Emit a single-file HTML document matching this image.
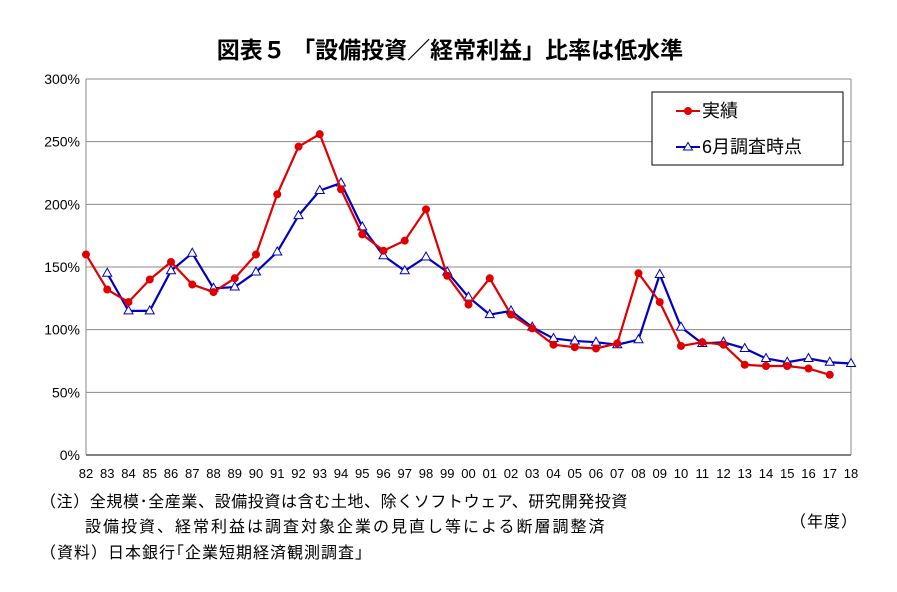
<!DOCTYPE html>
<html><head><meta charset="utf-8"><style>
body{margin:0;background:#fff;font-family:"Liberation Sans","Noto Sans CJK JP",sans-serif;}
svg text{font-family:"Liberation Sans","Noto Sans CJK JP",sans-serif;}
.note{font-size:16px;letter-spacing:2px;}
</style></head><body>
<svg id="chart" width="897" height="587" viewBox="0 0 897 587">
<text x="450" y="58" text-anchor="middle" font-size="23" font-weight="bold" fill="#000">図表５ 「設備投資／経常利益」比率は低水準</text>
<g id="grid"></g><g id="axes"></g><g id="series"></g>
<g>
<rect x="652" y="92" width="191" height="73" fill="#fff" stroke="#000" stroke-width="1"/>
<line x1="676" y1="111" x2="700" y2="111" stroke="#e00000" stroke-width="2"/>
<circle cx="688" cy="111" r="4" fill="#e00000"/>
<text x="702" y="117" font-size="18">実績</text>
<line x1="676" y1="147" x2="700" y2="147" stroke="#0000c0" stroke-width="2"/>
<polygon points="688,142.5 692.5,150 683.5,150" fill="#fff" stroke="#0000c0" stroke-width="1"/>
<text x="702" y="153" font-size="18">6月調査時点</text>
</g>
<text class="note" x="40" y="507" style="letter-spacing:0.6px">（注）全規模･全産業、設備投資は含む土地、除くソフトウェア、研究開発投資</text>
<text class="note" x="85" y="532">設備投資、経常利益は調査対象企業の見直し等による断層調整済</text>
<text class="note" x="40" y="558" style="letter-spacing:1px">（資料）日本銀行｢企業短期経済観測調査｣</text>
<text class="note" x="790" y="527" style="letter-spacing:1px">（年度）</text>
</svg>
<script>
const categories=["82","83","84","85","86","87","88","89","90","91","92","93","94","95","96","97","98","99","00","01","02","03","04","05","06","07","08","09","10","11","12","13","14","15","16","17","18"];
const actualValues=[160,132,122,140,154,136,130,141,160,208,246,256,212,176,163,171,196,143,120,141,112,101,88,86,85,89,145,122,87,90,88,72,71,71,69,64,null];
const juneValues=[null,145,115,115,147,161,133,134,146,162,191,211,217,182,159,147,158,146,126,112,115,102,93,91,90,88,92,144,102,89,90,85,77,74,77,74,73];
const yTicks=[0,50,100,150,200,250,300];
const NS="http://www.w3.org/2000/svg";
const x0=86,x1=851,yTop=79,yBot=455;
const xs=i=>x0+(x1-x0)*i/(categories.length-1);
const ys=v=>yBot-(yBot-yTop)*v/300;
function mk(tag,attrs,parent){const e=document.createElementNS(NS,tag);for(const k in attrs)e.setAttribute(k,attrs[k]);parent.appendChild(e);return e;}
const grid=document.getElementById('grid'),axes=document.getElementById('axes'),ser=document.getElementById('series');
yTicks.forEach(t=>{
 const l=mk('line',{x1:x0,x2:x1,y1:ys(t),y2:ys(t),stroke:t===0?'#000':'#888','stroke-width':1},grid);
 
 
 const tx=mk('text',{x:x0-6,y:ys(t)+5,'text-anchor':'end','font-size':14},axes);
 tx.textContent=t+'%';
 
 
});
const ax=mk('line',{x1:x0,x2:x0,y1:yTop,y2:yBot,stroke:'#888'},axes);


const ax2=mk('line',{x1:x1,x2:x1,y1:yTop,y2:yBot,stroke:'#888'},axes);


const ax3=mk('line',{x1:x0,x2:x1,y1:yTop,y2:yTop,stroke:'#888'},axes);


categories.forEach((c,i)=>{
 const t=mk('text',{x:xs(i),y:478,'text-anchor':'middle','font-size':13},axes);
 t.textContent=c;
 
 
});
function series(vals,color,name,marker){
 let d='';vals.forEach((v,i)=>{if(v==null)return;d+=(d?'L':'M')+xs(i)+','+ys(v);});
 const p=mk('path',{d:d,fill:'none',stroke:color,'stroke-width':2.2},ser);
 
 
 vals.forEach((v,i)=>{if(v==null)return;
  let m;
  if(marker==='circle')m=mk('circle',{cx:xs(i),cy:ys(v),r:4,fill:color},ser);
  else{const x=xs(i),y=ys(v);m=mk('polygon',{points:`${x},${y-5} ${x+4.5},${y+3} ${x-4.5},${y+3}`,fill:'#fff',stroke:color,'stroke-width':1},ser);}
  
  
 });
}
series(juneValues,'#0000c0','june-survey','tri');
series(actualValues,'#e00000','actual','circle');
</script>
</body></html>
